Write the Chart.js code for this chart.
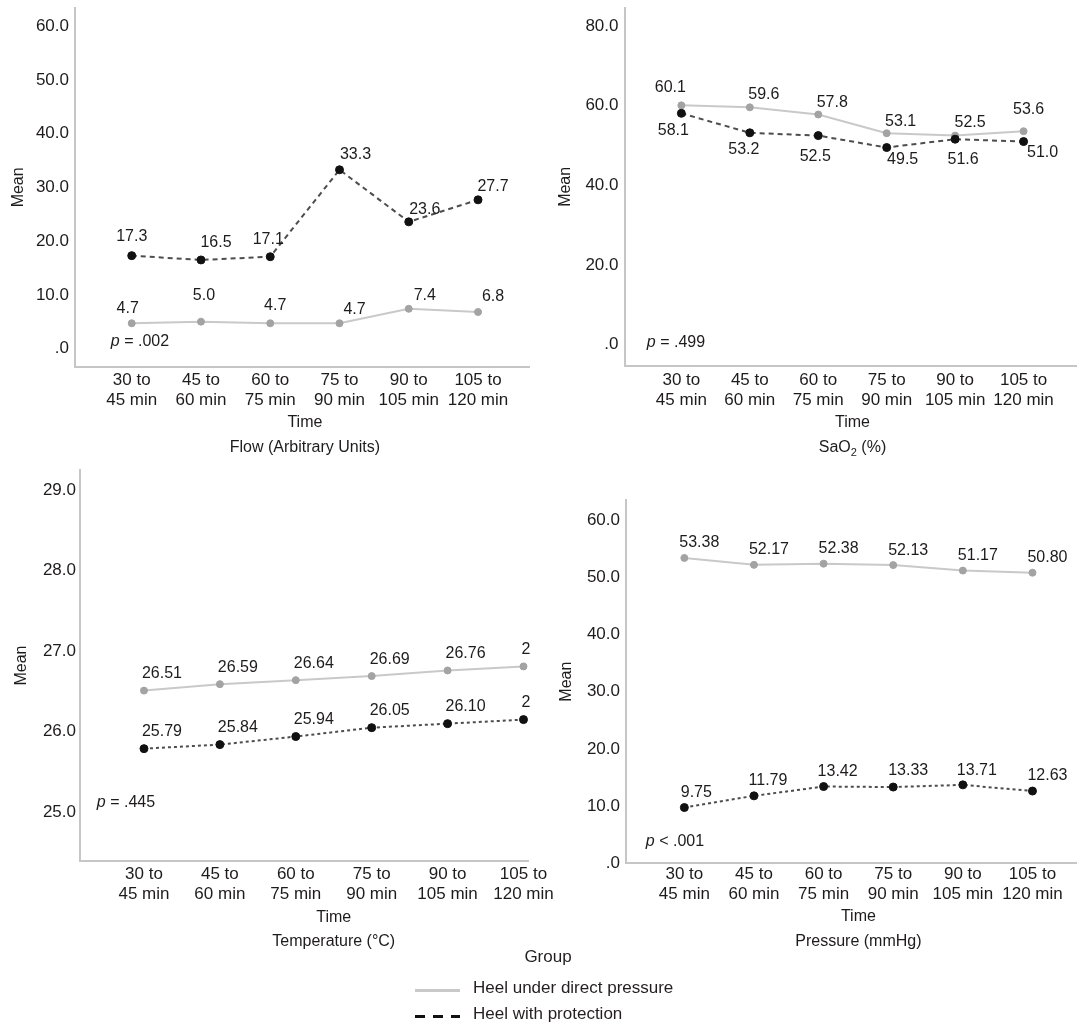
<!DOCTYPE html>
<html>
<head>
<meta charset="utf-8">
<script src="https://cdn.jsdelivr.net/npm/chart.js@4.4.1/dist/chart.umd.min.js"></script>
<style>
  html, body { margin: 0; padding: 0; background: #fff; }
  #wrap { position: relative; width: 1081px; height: 1025px; overflow: hidden;
          font-family: "Liberation Sans", Arial, sans-serif; color: #231f20; }
  #wrap canvas { position: absolute; }
  .lg { position: absolute; font-size: 17px; line-height: 20px; white-space: nowrap; }
  .swatch { position: absolute; width: 45px; height: 3px; }
</style>
</head>
<body>
<div id="wrap">
  <canvas id="cFlow"  width="540" height="460" style="left:0;top:0"></canvas>
  <canvas id="cSao2"  width="541" height="460" style="left:540px;top:0"></canvas>
  <canvas id="cTemp"  width="560" height="500" style="left:0;top:460px"></canvas>
  <canvas id="cPress" width="541" height="500" style="left:540px;top:460px"></canvas>

  <div class="lg" style="left:548px;top:947px;transform:translateX(-50%)">Group</div>
  <div class="swatch" style="left:415px;top:989px;background:#c9c9c9"></div>
  <div class="lg" style="left:473px;top:978px">Heel under direct pressure</div>
  <div class="swatch" style="left:415px;top:1015px;background:repeating-linear-gradient(to right,#111 0 10px,transparent 10px 18px)"></div>
  <div class="lg" style="left:473px;top:1004px">Heel with protection</div>
</div>
<script>
// ---- data ----
var TIME_LABELS = [['30 to', '45 min'], ['45 to', '60 min'], ['60 to', '75 min'],
                   ['75 to', '90 min'], ['90 to', '105 min'], ['105 to', '120 min']];

var FLOW_DIRECT   = [4.7, 5.0, 4.7, 4.7, 7.4, 6.8];
var FLOW_PROTECT  = [17.3, 16.5, 17.1, 33.3, 23.6, 27.7];
var SAO2_DIRECT   = [60.1, 59.6, 57.8, 53.1, 52.5, 53.6];
var SAO2_PROTECT  = [58.1, 53.2, 52.5, 49.5, 51.6, 51.0];
var TEMP_DIRECT   = [26.51, 26.59, 26.64, 26.69, 26.76, 26.81];
var TEMP_PROTECT  = [25.79, 25.84, 25.94, 26.05, 26.10, 26.15];
var PRESS_DIRECT  = [53.38, 52.17, 52.38, 52.13, 51.17, 50.80];
var PRESS_PROTECT = [9.75, 11.79, 13.42, 13.33, 13.71, 12.63];

var FLOW_TICKS  = [0, 10, 20, 30, 40, 50, 60];
var SAO2_TICKS  = [0, 20, 40, 60, 80];
var TEMP_TICKS  = [25, 26, 27, 28, 29];
var PRESS_TICKS = [0, 10, 20, 30, 40, 50, 60];

var P_VALUES = ['= .002', '= .499', '= .445', '< .001'];
var CAPTIONS = [
  [['Flow (Arbitrary Units)', 0]],
  [['SaO', 0], ['2', 1], [' (%)', 0]],
  [['Temperature (\u00B0C)', 0]],
  [['Pressure (mmHg)', 0]]
];

// ---- style ----
var FONT = '"Liberation Sans", Arial, sans-serif';
var INK = '#1e1b1c';
var AXIS = '#c6c6c6';
Chart.defaults.font.family = FONT;
Chart.defaults.font.size = 16;
Chart.defaults.color = INK;

function toXY(arr) { return arr.map(function (v, i) { return { x: i, y: v }; }); }

// data labels, p value, "Time" and the panel caption
var panelText = {
  id: 'panelText',
  afterDraw: function (chart, args, o) {
    var ctx = chart.ctx, area = chart.chartArea;
    var xs = chart.scales.x;
    var cx = xs.getPixelForValue((TIME_LABELS.length - 1) / 2);

    ctx.save();
    ctx.beginPath();
    ctx.rect(0, 0, area.right + 2, chart.height);
    ctx.clip();
    ctx.font = '16px ' + FONT;
    ctx.fillStyle = INK;
    ctx.textAlign = 'center';
    ctx.textBaseline = 'middle';
    chart.data.datasets.forEach(function (ds, di) {
      var meta = chart.getDatasetMeta(di);
      var offs = o.offsets[di];
      meta.data.forEach(function (pt, i) {
        var off = Array.isArray(offs[0]) ? offs[i] : offs;
        ctx.fillText(ds.data[i].y.toFixed(o.digits), pt.x + off[0], pt.y + off[1]);
      });
    });
    ctx.restore();

    ctx.save();
    ctx.fillStyle = INK;
    ctx.textBaseline = 'middle';
    // p value
    ctx.font = 'italic 16px ' + FONT;
    var w1 = ctx.measureText('p').width;
    ctx.font = '16px ' + FONT;
    var w2 = ctx.measureText(' ' + o.p).width;
    var x0 = o.pPos[0] - (w1 + w2) / 2;
    ctx.textAlign = 'left';
    ctx.font = 'italic 16px ' + FONT;
    ctx.fillText('p', x0, o.pPos[1]);
    ctx.font = '16px ' + FONT;
    ctx.fillText(' ' + o.p, x0 + w1, o.pPos[1]);

    // Time
    ctx.textAlign = 'center';
    ctx.fillText('Time', cx, o.timeY);

    // caption (segments, 1 = subscript)
    var total = 0;
    o.caption.forEach(function (s) {
      ctx.font = (s[1] ? '11px ' : '16px ') + FONT;
      total += ctx.measureText(s[0]).width;
    });
    var x = cx - total / 2;
    ctx.textAlign = 'left';
    o.caption.forEach(function (s) {
      ctx.font = (s[1] ? '11px ' : '16px ') + FONT;
      ctx.fillText(s[0], x, o.capY + (s[1] ? 5 : 0));
      x += ctx.measureText(s[0]).width;
    });
    ctx.restore();
  }
};

function makePanel(id, c) {
  var canvas = document.getElementById(id);
  var W = canvas.width, H = canvas.height;
  var xH = 60;
  return new Chart(canvas, {
    type: 'line',
    data: {
      datasets: [{
        label: 'Heel under direct pressure',
        data: toXY(c.direct),
        order: 1,
        borderColor: '#c9c9c9',
        borderWidth: 2,
        pointRadius: 3.5,
        pointBorderWidth: 1,
        pointBackgroundColor: '#a3a3a3',
        pointBorderColor: '#a3a3a3',
        tension: 0
      }, {
        label: 'Heel with protection',
        data: toXY(c.protect),
        order: 0,
        borderColor: '#4d4d4d',
        borderWidth: 2,
        borderDash: c.dash,
        pointRadius: 4,
        pointBorderWidth: 1,
        pointBackgroundColor: '#111',
        pointBorderColor: '#111',
        tension: 0
      }]
    },
    options: {
      responsive: false,
      animation: false,
      events: [],
      layout: { padding: { top: c.area[1], right: W - c.area[2], bottom: H - c.area[3] - xH, left: 0 } },
      scales: {
        x: {
          type: 'linear',
          min: c.xRange[0], max: c.xRange[1],
          grid: { display: false, drawTicks: false },
          border: { display: true, color: AXIS, width: 2 },
          ticks: {
            padding: c.xPad,
            maxRotation: 0,
            autoSkip: false,
            font: { size: 17, lineHeight: 1.18 },
            callback: function (v) { return TIME_LABELS[v] || ''; }
          },
          afterBuildTicks: function (s) {
            s.ticks = TIME_LABELS.map(function (_, i) { return { value: i }; });
          },
          afterFit: function (s) { s.height = xH; s.paddingLeft = 0; s.paddingRight = 0; }
        },
        y: {
          min: c.yRange[0], max: c.yRange[1],
          grid: { display: false, drawTicks: false },
          border: { display: true, color: AXIS, width: 2 },
          ticks: {
            padding: c.yPad,
            font: { size: 17 },
            callback: function (v) { return v === 0 ? '.0' : v.toFixed(1); }
          },
          title: { display: true, text: 'Mean', padding: { top: c.meanPad, bottom: 0 }, font: { size: 16 } },
          afterBuildTicks: function (s) {
            s.ticks = c.ticks.map(function (v) { return { value: v }; });
          },
          afterFit: function (s) { s.width = c.area[0]; s.paddingTop = 0; s.paddingBottom = 0; }
        }
      },
      plugins: {
        legend: { display: false },
        tooltip: { enabled: false },
        panelText: {
          offsets: c.offsets, digits: c.digits, p: c.p, pPos: c.pPos,
          timeY: c.timeY, capY: c.capY, caption: c.caption
        }
      }
    },
    plugins: [panelText]
  });
}

makePanel('cFlow', {
  direct: FLOW_DIRECT, protect: FLOW_PROTECT, ticks: FLOW_TICKS,
  area: [75, 8, 529, 366.7], xRange: [-0.819, 5.736], yRange: [-3.39, 63.44],
  xPad: 3.3, yPad: 6, meanPad: 9.4, dash: [5, 4], digits: 1,
  offsets: [
    [[-4, -15], [3, -26], [5, -18], [15, -14], [16, -13], [15, -15]],
    [[0, -19], [15, -17], [-2, -17], [16, -15], [16, -12], [15, -13]]
  ],
  p: P_VALUES[0], pPos: [140, 342], timeY: 423, capY: 448, caption: CAPTIONS[0]
});

makePanel('cSao2', {
  direct: SAO2_DIRECT, protect: SAO2_PROTECT, ticks: SAO2_TICKS,
  area: [84.5, 8, 541, 365.7], xRange: [-0.831, 5.766], yRange: [-5.33, 84.57],
  xPad: 4.3, yPad: 6, meanPad: 16.4, dash: [5, 4], digits: 1,
  offsets: [
    [[-11, -18], [14, -13], [14, -12], [14, -12], [15, -13], [5, -22]],
    [[-8, 17], [-6, 17], [-3, 21], [16, 12], [8, 20], [19, 11]]
  ],
  p: P_VALUES[1], pPos: [136, 343], timeY: 423, capY: 448, caption: CAPTIONS[1]
});

makePanel('cTemp', {
  direct: TEMP_DIRECT, protect: TEMP_PROTECT, ticks: TEMP_TICKS,
  area: [80, 10, 528.5, 401], xRange: [-0.843, 5.066], yRange: [24.396, 29.247],
  xPad: 3.4, yPad: 4, meanPad: 12.4, dash: [3, 3], digits: 2,
  offsets: [[18, -17], [18, -17]],
  p: P_VALUES[2], pPos: [126, 343], timeY: 458, capY: 482, caption: CAPTIONS[2]
});

makePanel('cPress', {
  direct: PRESS_DIRECT, protect: PRESS_PROTECT, ticks: PRESS_TICKS,
  area: [86, 40, 541, 403.3], xRange: [-0.838, 5.625], yRange: [0, 63.51],
  xPad: 1.4, yPad: 6, meanPad: 17.4, dash: [3, 3], digits: 2,
  offsets: [
    [15, -15],
    [[12, -15], [14, -15], [14, -15], [15, -16], [14, -14], [15, -15]]
  ],
  p: P_VALUES[3], pPos: [135, 382], timeY: 457, capY: 482, caption: CAPTIONS[3]
});
</script>
</body>
</html>
